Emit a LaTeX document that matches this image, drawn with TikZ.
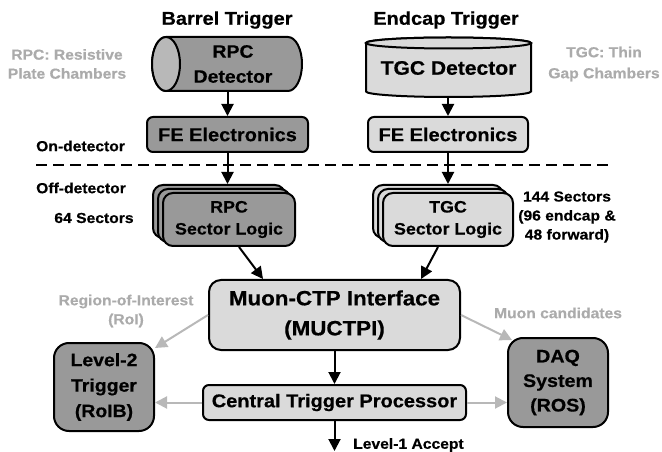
\documentclass[tikz,border=0pt]{standalone}
\usepackage{fontspec}
\setmainfont{Liberation Sans}[FakeStretch=1.08, BoldFeatures={FakeBold=0.5}]
\usetikzlibrary{arrows.meta}
\definecolor{dk}{HTML}{999999}
\definecolor{lt}{HTML}{DADADA}
\definecolor{face}{HTML}{B8B8B8}
\definecolor{gt}{HTML}{ABABAB}
\definecolor{ga}{HTML}{B8B8B8}
\newcommand{\fs}[2]{\bfseries\fontsize{#1bp}{#2bp}\selectfont}
\begin{document}
\begin{tikzpicture}[x=1bp,y=-1bp,
  box/.style={draw=black, line width=2bp, rounded corners=6bp, align=center, inner sep=0pt, font=\fs{18.5}{24}},
  lbl/.style={font=\fs{14.5}{19}, align=center, inner sep=0pt},
  glbl/.style={lbl, text=gt},
  ttl/.style={font=\fs{18.5}{24}, inner sep=0pt},
  arr/.style={line width=2bp, -{Triangle[length=12bp,width=12bp]}},
  garr/.style={arr, draw=ga, -{Triangle[length=12bp,width=12bp,fill=ga]}},
  slbox/.style={box, rounded corners=10bp, minimum width=132bp, minimum height=53bp, font=\fs{16.5}{22}},
]
\useasboundingbox (0,0) rectangle (662,452);

% titles
\node[ttl] (bt) at (227,20) {Barrel Trigger};
\node[ttl] (et) at (446,20) {Endcap Trigger};

% side labels
\node[glbl] (rpclbl) at (67,64) {RPC: Resistive\\Plate Chambers};
\node[glbl, font=\fs{14.5}{21}] (tgclbl) at (604,64) {TGC: Thin\\Gap Chambers};

% RPC cylinder (horizontal)
\filldraw[fill=dk, line width=2bp] (166,37) -- (288,37)
  arc[start angle=-90, end angle=90, x radius=14, y radius=27]
  -- (166,91) arc[start angle=90, end angle=270, x radius=14, y radius=27] -- cycle;
\filldraw[fill=face, line width=2bp] (166,64) ellipse[x radius=14, y radius=27];
\node[align=center, inner sep=0pt, minimum height=54bp, font=\fs{18}{25}] (rpcdet) at (233,64) {RPC\\Detector};

% TGC cylinder (vertical)
\filldraw[fill=lt, line width=2bp] (366,43) -- (366,91.5)
  arc[start angle=180, end angle=0, x radius=82.5, y radius=5.5]
  -- (531,43) arc[start angle=0, end angle=-180, x radius=82.5, y radius=5.5] -- cycle;
\filldraw[fill=lt, line width=2bp] (448.5,43) ellipse[x radius=82.5, y radius=5.5];
\node[inner sep=0pt, minimum height=58bp, font=\fs{19.5}{24}] (tgcdet) at (448.5,68) {TGC Detector};

% FE electronics
\node[box, fill=dk, minimum width=161bp, minimum height=35bp] (rpcfe) at (227.5,134.5) {FE Electronics};
\node[box, fill=lt, minimum width=160bp, minimum height=35bp] (tgcfe) at (448,134.5) {FE Electronics};

% on/off detector
\node[lbl, anchor=west] (on) at (36,146) {On-detector};
\node[lbl, anchor=west] (off) at (36,188) {Off-detector};
\draw[line width=2bp, dash pattern=on 10.5bp off 6.5bp] (36,165) -- (611,165);

% sector logic stacks
\node[slbox, fill=dk] (rpcsl3) at (219,211.5) {};
\node[slbox, fill=dk] (rpcsl2) at (224,215.5) {};
\node[slbox, fill=dk] (rpcsl) at (229,219.5) {RPC\\Sector Logic};
\node[slbox, fill=lt, minimum width=130bp] (tgcsl3) at (438,211.5) {};
\node[slbox, fill=lt, minimum width=130bp] (tgcsl2) at (443,215.5) {};
\node[slbox, fill=lt, minimum width=130bp] (tgcsl) at (448,219.5) {TGC\\Sector Logic};

\node[lbl] (s64) at (94,218) {64 Sectors};
\node[lbl] (s144) at (567,217) {144 Sectors\\(96 endcap \&\\48 forward)};

% MUCTPI and CTP
\node[box, fill=lt, rounded corners=12bp, minimum width=251bp, minimum height=70bp, font=\fs{20.7}{30}] (muctpi) at (334.5,315) {Muon-CTP Interface\\(MUCTPI)};
\node[box, fill=lt, minimum width=263bp, minimum height=35bp] (ctp) at (334.5,402.5) {Central Trigger Processor};

% L2 and DAQ
\node[box, fill=dk, rounded corners=15bp, minimum width=100bp, minimum height=88bp, font=\fs{18}{25.5}] (l2) at (104,387) {Level-2\\Trigger\\(RoIB)};
\node[box, fill=dk, rounded corners=15bp, minimum width=100bp, minimum height=89bp, font=\fs{18.2}{24.5}] (daq) at (558,382.5) {DAQ\\System\\(ROS)};

\node[glbl] (roi) at (126,311) {Region-of-Interest\\(RoI)};
\node[glbl] (mc) at (558,313) {Muon candidates};

% black arrows
\draw[arr] (rpcfe.north |- rpcdet.south) -- (rpcfe.north);
\draw[arr] (tgcfe.north |- tgcdet.south) -- (tgcfe.north);
\draw[arr] (rpcfe.south) -- (rpcfe.south |- rpcsl3.north);
\draw[arr] (tgcfe.south) -- (tgcfe.south |- tgcsl3.north);
\draw[arr] ([xshift=10bp]rpcsl.south) -- ([xshift=-71.5bp]muctpi.north);
\draw[arr] ([xshift=-10bp]tgcsl.south) -- ([xshift=86.5bp]muctpi.north);
\draw[arr] (muctpi.south) -- (ctp.north);
\coordinate (l1end) at (334.5,451);
\draw[arr] (ctp.south) -- (l1end);
\node[lbl, anchor=west] (l1a) at (353,445) {Level-1 Accept};

% gray arrows
\draw[garr] (muctpi.west) -- ([yshift=-6bp]l2.north east);
\draw[garr] (muctpi.east) -- ([xshift=5bp,yshift=-3bp]daq.north west);
\draw[garr] (ctp.west) -- (ctp.west -| l2.east);
\draw[garr] (ctp.east) -- (ctp.east -| daq.west);
\end{tikzpicture}
\end{document}
